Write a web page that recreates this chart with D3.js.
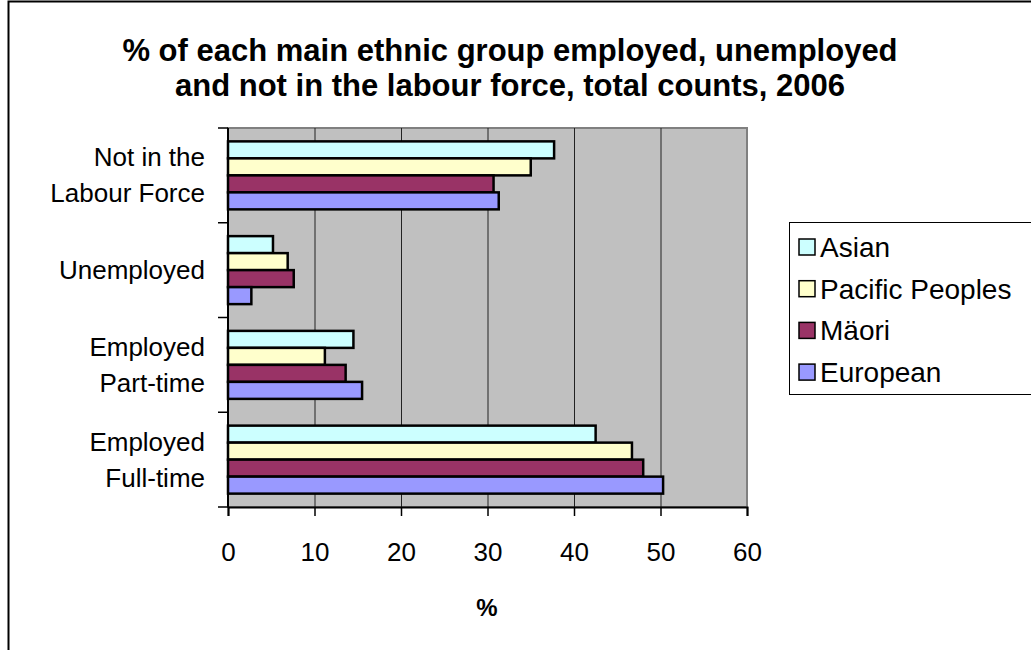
<!DOCTYPE html>
<html>
<head>
<meta charset="utf-8">
<script src="https://cdn.jsdelivr.net/npm/d3@7"></script>
<style>
  body { margin: 0; background: #fff; }
  svg text { font-family: "Liberation Sans", Arial, sans-serif; fill: #000; }
</style>
</head>
<body>
<div id="chart"></div>
<script>
// categories top to bottom
var categories = ["Not in the Labour Force", "Unemployed", "Employed Part-time", "Employed Full-time"];
var catLines = [["Not in the", "Labour Force"], ["Unemployed"], ["Employed", "Part-time"], ["Employed", "Full-time"]];
var groups = ["Asian", "Pacific Peoples", "Mäori", "European"];
var colors = ["#CCFFFF", "#FFFFCC", "#993366", "#9999FF"];

// % per group, in category order
var asian    = [37.7, 5.2, 14.5, 42.5];
var pacific  = [35.0, 6.9, 11.2, 46.7];
var maori    = [30.7, 7.6, 13.6, 48.0];
var european = [31.3, 2.7, 15.5, 50.3];
var xTicks = [0, 10, 20, 30, 40, 50, 60];

var series = [asian, pacific, maori, european];

var W = 1031, H = 650;
var plot = {left: 228, top: 128, right: 747, bottom: 507};

var svg = d3.select("#chart").append("svg")
  .attr("width", W).attr("height", H);

// outer chart border
svg.append("rect")
  .attr("x", 8.5).attr("y", 1.5).attr("width", W + 10).attr("height", H + 10)
  .attr("fill", "#fff").attr("stroke", "#000").attr("stroke-width", 2);

// title
svg.append("text").attr("x", 510).attr("y", 61)
  .attr("text-anchor", "middle").style("font-weight", "bold").style("font-size", "31px")
  .text("% of each main ethnic group employed, unemployed");
svg.append("text").attr("x", 510).attr("y", 96)
  .attr("text-anchor", "middle").style("font-weight", "bold").style("font-size", "31px")
  .text("and not in the labour force, total counts, 2006");

var x = d3.scaleLinear().domain([0, 60]).range([plot.left, plot.right]);
var y0 = d3.scaleBand().domain(categories).range([plot.top, plot.bottom]);
var bandPad = (y0.bandwidth() - 68) / 2;
var y1 = d3.scaleBand().domain(groups).range([bandPad, y0.bandwidth() - bandPad]);

// plot background
svg.append("rect")
  .attr("x", plot.left).attr("y", plot.top)
  .attr("width", plot.right - plot.left).attr("height", plot.bottom - plot.top)
  .attr("fill", "#C0C0C0").attr("stroke", "#808080").attr("stroke-width", 2);

// gridlines
svg.append("g").selectAll("line")
  .data(xTicks.slice(1, -1))
  .enter().append("line")
  .attr("x1", function(d) { return x(d) + 0.5; }).attr("x2", function(d) { return x(d) + 0.5; })
  .attr("y1", plot.top).attr("y2", plot.bottom)
  .attr("stroke", "#222").attr("stroke-width", 1);

// bars
var cat = svg.append("g").selectAll("g")
  .data(categories)
  .enter().append("g")
  .attr("transform", function(d) { return "translate(0," + y0(d) + ")"; });

cat.selectAll("rect")
  .data(function(d, ci) { return groups.map(function(g, gi) { return {g: g, gi: gi, v: series[gi][ci]}; }); })
  .enter().append("rect")
  .attr("x", x(0))
  .attr("y", function(d) { return y1(d.g); })
  .attr("width", function(d) { return x(d.v) - x(0); })
  .attr("height", y1.bandwidth())
  .attr("fill", function(d) { return colors[d.gi]; })
  .attr("stroke", "#000").attr("stroke-width", 2.5);

// x axis
var xAxis = d3.axisBottom(x).tickValues(xTicks).tickSize(9).tickPadding(27);
var xAxisEl = svg.append("g")
  .attr("transform", "translate(0," + plot.bottom + ")")
  .call(xAxis);
xAxisEl.select(".domain").attr("stroke", "#000").attr("stroke-width", 2);
xAxisEl.selectAll(".tick line").attr("stroke", "#000").attr("stroke-width", 1.5);
xAxisEl.selectAll(".tick text").style("font-size", "26px").attr("fill", "#000");

// y axis line and ticks at category boundaries
var yAxisEl = svg.append("g");
yAxisEl.append("line")
  .attr("x1", plot.left).attr("x2", plot.left)
  .attr("y1", plot.top).attr("y2", plot.bottom)
  .attr("stroke", "#000").attr("stroke-width", 2);
yAxisEl.selectAll(".ytick")
  .data(categories.concat(["end"]))
  .enter().append("line")
  .attr("x1", plot.left - 10).attr("x2", plot.left)
  .attr("y1", function(d) { return d == "end" ? plot.bottom : y0(d); })
  .attr("y2", function(d) { return d == "end" ? plot.bottom : y0(d); })
  .attr("stroke", "#000").attr("stroke-width", 1.5);

// category labels
svg.append("g").selectAll("text")
  .data(categories)
  .enter().append("text")
  .attr("text-anchor", "end")
  .attr("x", 205)
  .attr("y", function(d, i) {
    var c = y0(d) + y0.bandwidth() / 2;
    return c - (catLines[i].length - 1) * 18 + 9;
  })
  .style("font-size", "26px")
  .each(function(d, i) {
    var t = d3.select(this);
    catLines[i].forEach(function(line, li) {
      t.append("tspan").attr("x", 205).attr("dy", li == 0 ? 0 : 36).text(line);
    });
  });

// x axis title
svg.append("text").attr("x", 487).attr("y", 616)
  .attr("text-anchor", "middle").style("font-weight", "bold").style("font-size", "24px")
  .text("%");

// legend
var legend = svg.append("g").attr("transform", "translate(789,222)");
legend.append("rect")
  .attr("x", 0.5).attr("y", 0.5).attr("width", 260).attr("height", 172)
  .attr("fill", "#fff").attr("stroke", "#000").attr("stroke-width", 1);
var item = legend.selectAll(".item")
  .data(groups)
  .enter().append("g")
  .attr("transform", function(d, i) { return "translate(0," + (25 + i * 41.7) + ")"; });
item.append("rect")
  .attr("x", 10).attr("y", -8).attr("width", 16).attr("height", 16)
  .attr("fill", function(d, i) { return colors[i]; })
  .attr("stroke", "#000").attr("stroke-width", 1.5);
item.append("text")
  .attr("x", 31).attr("y", 10)
  .style("font-size", "28px")
  .text(function(d) { return d; });
</script>
</body>
</html>
